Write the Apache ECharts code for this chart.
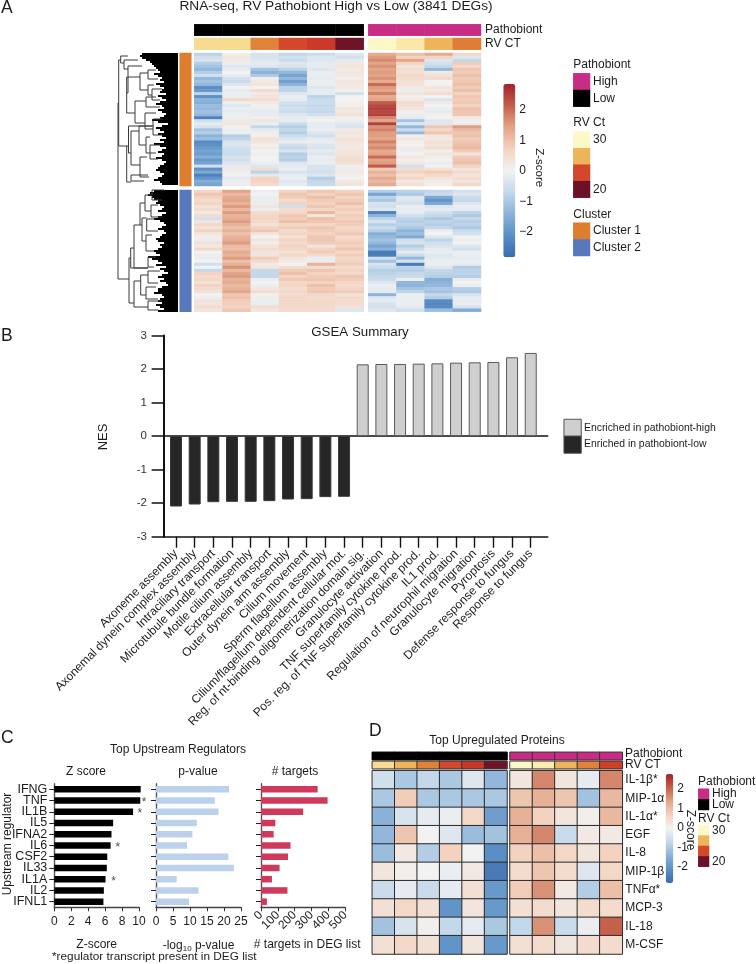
<!DOCTYPE html>
<html><head><meta charset="utf-8">
<script src="https://cdn.jsdelivr.net/npm/echarts@6/dist/echarts.min.js"></script>
<style>html,body{margin:0;padding:0;background:#fff}#c{width:756px;height:964px}</style>
</head><body><div id="c"></div>
<script>
// ---------- Panel A: z-scores in tenths, one array per sample column, upper block (cluster 1)
const upperLow1=[-8,-5,-4,-9,-11,-13,-9,-5,-13,-11,-13,-21,-19,-8,-21,-14,-15,-12,-13,-11,-13,-24,-5,-2,-4,-11,-9,-14,-12,-22,-21,-19,-17,-18,-15,-19,-17,-5,-21,-16,-24,-20,-15,-17];
const upperLow2=[1,3,2,-1,-3,-2,0,-2,-5,-6,-3,0,-2,-1,-1,6,-1,-3,-1,-2,-1,-1,2,3,1,-1,-1,-9,-8,-4,-3,-5,-6,-6,-4,-5,-3,-2,2,-1,1,-2,-1,1];
const upperLow3=[-4,-4,-3,-2,-3,-11,-14,-10,1,2,3,0,5,2,3,5,2,1,-1,-2,-2,1,3,-1,-7,-2,1,1,4,3,1,2,0,1,0,0,-1,-3,5,-8,-2,7,7,5];
const upperLow4=[-7,-5,-6,-3,-4,-8,-13,-17,-13,-18,-14,-8,-8,-3,-1,-2,-5,-6,-5,-6,-3,-2,-2,-6,-9,-7,-9,-6,-3,-1,-5,-7,-4,-9,-8,-9,-3,-2,-1,-4,-2,-1,-3,-2];
const upperLow5=[-6,-3,-3,-2,-2,-3,-1,-1,-2,-1,-1,-3,-2,-2,-8,-6,-6,-7,-6,-7,-5,-1,0,-2,-2,-1,-3,-5,-2,-1,-3,-4,-2,-3,-1,-2,-1,-4,-4,-5,-3,-9,-7,-6];
const upperLow6=[-3,-5,-2,2,3,2,3,2,1,3,2,2,1,-5,0,0,1,1,3,2,4,1,-1,-3,-4,2,3,2,4,3,2,2,3,3,4,5,4,1,-1,2,1,0,2,3];
const upperHigh1=[13,15,17,14,16,14,15,14,16,13,20,15,14,18,13,14,22,24,25,24,25,17,14,25,16,18,15,15,14,18,15,17,13,14,20,14,15,22,8,12,10,13,11,13];
const upperHigh2=[10,7,14,7,3,5,4,6,5,4,4,2,-1,3,1,2,5,4,3,1,-1,-2,-11,-3,-13,-6,-13,1,3,1,0,2,-1,0,3,1,2,-5,5,7,4,6,2,4];
const upperHigh3=[13,7,-3,-5,-7,-13,2,4,5,0,0,3,2,5,0,-4,2,0,-1,-2,1,0,-3,-3,9,6,9,3,2,4,3,5,1,3,1,0,-1,0,4,8,6,3,2,1];
const upperHigh4=[6,-3,-7,8,6,9,8,10,8,9,10,8,10,7,9,8,9,7,10,9,9,2,1,-1,15,11,9,10,8,9,10,11,8,3,8,9,10,7,3,5,3,5,3,6];
// lower block (cluster 2)
const lowerLow1=[6,9,7,5,7,4,5,2,5,-5,3,6,4,7,3,1,-1,4,2,6,0,-1,-1,0,-5,0,-7,7,5,6,4,7,5,4,0,-1,4,3,5,3];
const lowerLow2=[14,11,13,14,12,15,11,15,12,13,15,12,10,12,10,12,13,15,11,10,13,12,15,10,12,16,11,14,15,12,13,11,12,14,9,10,8,8,7,9];
const lowerLow3=[-1,0,-1,-1,-1,3,-1,5,6,7,6,4,7,9,3,0,3,1,4,5,3,3,8,5,2,3,-7,-7,-7,-1,0,-1,3,5,1,-1,-1,-1,5,3];
const lowerLow4=[7,9,8,5,7,-5,5,6,9,8,10,6,8,5,7,4,7,5,7,6,4,6,3,2,0,5,8,10,7,9,6,7,5,6,5,6,6,6,6,5];
const lowerLow5=[9,7,10,8,7,9,6,11,3,10,9,6,9,8,7,9,9,8,3,7,8,5,-1,-1,12,5,9,7,8,9,7,10,8,9,6,5,6,6,6,5];
const lowerLow6=[7,9,7,8,10,7,8,6,8,7,9,8,6,7,9,5,7,8,7,9,6,8,6,7,8,5,7,6,9,8,6,5,7,8,4,6,5,5,4,-3];
const lowerHigh1=[-9,-17,-8,-10,-4,-5,-3,-24,-14,-8,-4,-9,-6,-9,-15,-13,-11,-13,-17,-14,-25,-25,-5,-11,-4,-6,-9,-8,-7,-6,-3,-1,-2,-2,-14,-3,-2,-4,-5,-3];
const lowerHigh2=[-8,-10,-3,-3,-5,-1,-2,-2,-5,-8,-9,-8,-10,-14,-12,-16,-5,-4,-9,-6,-2,-6,-13,-4,-25,-8,-9,-7,-6,-1,-13,-14,-11,-8,-1,-1,-1,-1,-2,-5];
const lowerHigh3=[-7,-6,-16,-20,-16,-3,-2,-5,-7,-10,-8,-9,-7,-1,0,-3,-8,-5,-4,-2,-1,-3,-2,-1,-1,-3,-7,-8,-9,-15,-14,-13,-10,-11,-7,-9,-22,-23,-22,-12];
const lowerHigh4=[-5,-3,-6,-7,-3,-1,-2,-8,-10,-7,-9,-8,-10,-6,-5,0,-1,0,-3,-5,-1,-1,-2,-1,-2,-9,-8,-8,-9,-1,0,-1,-9,-10,-4,-2,-2,-1,-4,-15];
// RV Ct of each sample, pathobiont group codes
const ctLowA=[28.9,28.9,26,24,23,20.1];
const ctHighA=[30,29.4,27.5,25.8];
// dendrogram: merges [depth, rowA, rowB, childDepthA, childDepthB]
const dendroMerges=[[0,50,226,0.7,11],[0.7,7,93,2.7,8.7],[2.7,3,10,10,6],[6,7,16,20,10],[10,13,40,24,8.7],[8.7,24,60,22,17],[22,20,37,30,30],[30,17,26,38,40],[30,32,42,36,34],[34,36,47,44,42],[17,48,70,28,27],[28,44,54,38,42],[27,60,76,38,35],[35,66,82,45,44],[8.7,93,129,10.5,13],[10.5,73,100,34,13],[13,78,112,21,22],[21,73,92,36,28],[28,84,100,32,38],[32,92,106,42,40],[22,104,124,29,31],[13,122,128,30,26],[11,205,250,12.7,16],[12.7,195,215,16,30],[16,172,215,22,30],[22,150,172,27,24],[27,142,158,34,33],[34,137,147,46,44],[33,152,164,40,44],[24,165,188,28.7,28],[28.7,166,178,38,40],[28,182,198,34,36],[30,204,214,38,36],[16,228,254,22.7,30],[22.7,222,242,30,28],[30,218,230,42,40],[28,234,246,38,40],[30,248,257,44,40]];
const dendroLeafUpper=[24,22,24,28,32,34,36,38,40,42,36,40,44,42,46,38,42,46,44,42,48,40,44,48,42,38,44,46,40,44,48,46,42,34,40,50,44,38,42,46,40,44,48,42,46,36,42,48,44,40,46,44,38,44,48,46,42,40,38,42,46,44,40,36,42,44];
const dendroLeafLower=[36,32,30,34,36,40,38,42,46,44,40,48,44,40,36,42,46,48,44,40,46,48,44,42,38,40,46,42,44,40,36,38,42,30,34,40,44,38,48,42,46,50,44,40,46,42,48,50,44,40,40,36,44,46,42,40,44,38,42,46,40];
// ---------- Panel B
const gseaTerms=["Axoneme assembly","Axonemal dynein complex assembly","Intraciliary transport","Microtubule bundle formation","Motile cilium assembly","Extracellular transport","Outer dynein arm assembly","Cilium movement","Sperm flagellum assembly","Cilium/flagellum dependent cellular mot.","Reg. of nt-binding oligomerization domain sig.","Granulocyte activation","TNF superfamily cytokine prod.","Pos. reg. of TNF superfamily cytokine prod.","IL1 prod.","Regulation of neutrophil migration","Granulocyte migration","Pyroptosis","Defense response to fungus","Response to fungus"];
const gseaNes=[-2.1,-2.04,-1.97,-1.96,-1.96,-1.94,-1.89,-1.88,-1.82,-1.81,2.14,2.15,2.15,2.16,2.17,2.19,2.2,2.21,2.35,2.48];
// ---------- Panel C
const regulators=["IFNG","TNF","IL1B","IL5","IFNA2","IL6","CSF2","IL33","IL1A","IL2","IFNL1"];
const regZ=[10.2,10.15,9.3,6.95,6.75,6.65,6.25,6.2,6.05,5.85,5.8];
const regP=[21.5,17.3,18.4,12,10.7,9.1,21.3,22.9,6.1,12.5,9.7];
const regTargets=[336,395,250,85,75,175,160,110,65,157,35];
const regStars=[[10.6,"TNF"],[10.1,"IL1B"],[7.5,"IL6"],[7.0,"IL1A"]];
// ---------- Panel D
const proteins=["IL-1β*","MIP-1α","IL-1α*","EGF","IL-8","MIP-1β","TNFα*","MCP-3","IL-18","M-CSF"];
const protLow=[[-0.5,-1,-0.7,-1,-0.3,-1.3],[-1,0.8,-1,-1,-1,-1],[-1.4,-0.4,-0.2,-0.1,0.6,-1.8],[-1.3,0.9,0,-0.3,-1.2,-1.1],[-1.2,0.2,-0.9,0.7,0,-2.1],[0.3,0.1,0,-0.1,0.2,-2.5],[-0.6,-0.2,-0.6,-0.2,0.4,-1.9],[0.4,0.6,0.4,-2,0.3,-1.9],[-1.1,-0.4,0.1,-0.7,-0.2,-1],[0.4,0.6,0.4,-2,0.3,-1.9]];
const protHigh=[[0.3,1.7,0.3,-0.2,1.7],[0.9,1.2,0.9,-1.1,1.1],[1.2,0.7,0.3,0.1,1.1],[1.2,1.7,-0.6,0.2,0.2],[0.7,1,0.6,0.3,0.7],[0.5,0.9,0.5,-0.3,0.6],[0.8,1.6,0.2,-0.9,1],[0.4,0.5,0.3,0.5,0.5],[-0.7,1.6,-0.6,-0.1,2.1],[0.4,0.5,0.3,0.5,0.5]];
const ctLowD=[28.9,27.5,26,24,22.8,20.1];
const ctHighD=[30,29.5,27.5,26,23.5];
// legends
const ctLegend=[30,27.5,24,20];
const zStops=['#3c6bad','#5a8fc5','#8ab2d9','#c3d8ea','#f2f2f2','#f3d3c0','#e2a488','#c4604c','#a1212f'];
const ctStops=['#6b1228','#c12c25','#d4472a','#e0823a','#f2c464','#fdf8c8'];
const FONT='"Liberation Sans",Arial,sans-serif', INK='#1c1c1c';

const grids=[],xAxis=[],yAxis=[],series=[],graphic=[];
const vmZA=[],vmZD=[],vmCt=[],vmCat=[];
function grid(box){grids.push({left:box[0],top:box[1],width:box[2],height:box[3],show:false,containLabel:false,outerBoundsMode:'none'});return grids.length-1;}
const hiddenCat=(g,n,inv,extra)=>Object.assign({type:'category',gridIndex:g,data:Array.from({length:n},(_,i)=>i),show:false,inverse:!!inv},extra||{});
// a matrix heat panel; rows[r][c]
function heat(box,rows,target,border,yExtra){
  const g=grid(box),nr=rows.length,nc=rows[0].length,data=[];
  rows.forEach((row,r)=>row.forEach((v,c)=>data.push([c,r,v])));
  xAxis.push(hiddenCat(g,nc));
  yAxis.push(hiddenCat(g,nr,true,yExtra));
  target.push(series.length);
  series.push({type:'heatmap',xAxisIndex:xAxis.length-1,yAxisIndex:yAxis.length-1,data,silent:true,progressive:0,animation:false,
    itemStyle:border?{borderColor:border,borderWidth:1}:{}});
}
const toRows=(cols,f)=>cols[0].map((_,r)=>cols.map(c=>f?f(c[r]):c[r]));
const tenth=v=>v/10;
function text(t,x,y,o){graphic.push({type:'text',x,y,rotation:(o&&o.rot)||0,silent:true,style:Object.assign({text:t,fill:INK,font:`${(o&&o.size)||12}px ${FONT}`,align:(o&&o.align)||'left',verticalAlign:'middle'},(o&&o.rich)?{rich:o.rich}:{})});}
const legendLabels=(labels,size)=>({show:true,position:'right',data:labels,axisLine:{show:false},axisTick:{show:false},axisLabel:{show:true,interval:0,fontFamily:FONT,fontSize:size,color:INK,margin:3}});
function legendSwatch(box,codes,target,labels,size,border){heat(box,codes.map(v=>[v]),target,border,legendLabels(labels,size));}

// ========== A
heat([194.3,53,169.4,133],toRows([upperLow1,upperLow2,upperLow3,upperLow4,upperLow5,upperLow6],tenth),vmZA);
heat([368.3,53,112.7,133],toRows([upperHigh1,upperHigh2,upperHigh3,upperHigh4],tenth),vmZA);
heat([194.3,190,169.4,121.7],toRows([lowerLow1,lowerLow2,lowerLow3,lowerLow4,lowerLow5,lowerLow6],tenth),vmZA);
heat([368.3,190,112.7,121.7],toRows([lowerHigh1,lowerHigh2,lowerHigh3,lowerHigh4],tenth),vmZA);
heat([194.3,24.3,169.4,11.4],[[0,0,0,0,0,0]],vmCat);
heat([368.3,24.3,112.7,11.4],[[1,1,1,1]],vmCat);
heat([194.3,38,169.4,11.7],[ctLowA],vmCt);
heat([368.3,38,112.7,11.7],[ctHighA],vmCt);
heat([179.7,53,11.6,133],[[2]],vmCat);
heat([179.7,190,11.6,121.7],[[3]],vmCat);
// dendrogram
{
  const g=grid([118,53,60,259]);
  xAxis.push({type:'value',gridIndex:g,min:0,max:60,show:false});
  yAxis.push({type:'value',gridIndex:g,min:0,max:259,inverse:true,show:false});
  const xi=xAxis.length-1,yi=yAxis.length-1;
  const leaves=[];
  dendroLeafUpper.forEach((d,i)=>leaves.push([d,i*2]));
  dendroLeafLower.forEach((d,i)=>leaves.push([d,137+i*2]));
  series.push({type:'custom',xAxisIndex:xi,yAxisIndex:yi,silent:true,animation:false,data:leaves,clip:false,
    renderItem(p,api){const a=api.coord([api.value(0),api.value(1)]),b=api.coord([60,api.value(1)+2]);
      return {type:'rect',shape:{x:a[0],y:a[1],width:b[0]-a[0],height:b[1]-a[1]},style:{fill:'#000'}};},
    encode:{x:0,y:1}});
  series.push({type:'custom',xAxisIndex:xi,yAxisIndex:yi,silent:true,animation:false,data:dendroMerges,clip:false,
    renderItem(p,api){
      const d=api.value(0),y1=api.value(1),y2=api.value(2),a=api.value(3),b=api.value(4);
      const P=(x,y)=>api.coord([x,y]);
      const pts=[P(a,y1),P(d,y1),P(d,y2),P(b,y2)];
      return {type:'polyline',shape:{points:pts},style:{fill:null,stroke:'#3a3a3a',lineWidth:1}};},
    encode:{x:0,y:1}});
}
// colour bar axis
function zAxis(box,minus){
  const g=grid(box);
  xAxis.push({type:'category',gridIndex:g,data:[''],show:false});
  yAxis.push({type:'value',gridIndex:g,min:-3,max:3,interval:1,position:'right',axisLine:{show:false},axisTick:{show:false},splitLine:{show:false},
    axisLabel:{fontFamily:FONT,fontSize:12,color:INK,margin:4,formatter:v=>Math.abs(v)===3?'':String(v).replace('-',minus)}});
}
zAxis([503.3,79.2,12,183],'−');
text('Z-score',539,167.7,{rot:-Math.PI/2,align:'center',size:11.5});
text('RNA-seq, RV Pathobiont High vs Low (3841 DEGs)',336,6,{size:13.7,align:'center'});
text('Pathobiont',485,30,{size:12});
text('RV CT',485,44,{size:12});
text('A',1,8,{size:17.5});
text('Pathobiont',573.3,65,{size:12});
legendSwatch([573.3,73.3,16.7,33.4],[1,0],vmCat,['High','Low'],12);
text('RV Ct',573.3,123,{size:12});
legendSwatch([573.3,131.7,16.7,66],ctLegend,vmCt,['30','','','20'],12);
text('Cluster',573.3,214.7,{size:12});
legendSwatch([573.3,222.7,16.7,33.3],[2,3],vmCat,['Cluster 1','Cluster 2'],12);

// ========== B
{
  const g=grid([164,335.5,383.7,201.2]);
  xAxis.push({type:'category',gridIndex:g,data:[''],axisLine:{onZero:true,lineStyle:{color:'#111',width:1.6}},axisTick:{show:false},axisLabel:{show:false}});
  const xi2=xAxis.length;
  xAxis.push({type:'category',gridIndex:g,position:'bottom',data:[''],axisLine:{onZero:false,lineStyle:{color:'#111',width:1.6}},axisTick:{show:false},axisLabel:{show:false}});
  yAxis.push({type:'value',gridIndex:g,min:-3,max:3,interval:1,axisLine:{show:true,onZero:false,lineStyle:{color:'#111',width:2}},axisTick:{show:true,length:12.4,lineStyle:{color:'#111',width:1.5}},splitLine:{show:false},
    axisLabel:{fontFamily:FONT,fontSize:11.5,color:'#333',margin:17}});
  const yi=yAxis.length-1;
  series.push({type:'line',xAxisIndex:xi2,yAxisIndex:yi,data:[],silent:true});
  const b=grid([166.67,335.5,373.4,201.2]);
  xAxis.push({type:'category',gridIndex:b,data:gseaTerms,axisLine:{show:false,onZero:false},axisTick:{show:true,alignWithLabel:true,length:11,lineStyle:{color:'#111',width:1.4}},
    axisLabel:{interval:0,rotate:45,fontFamily:FONT,fontSize:12,color:INK,margin:15,hideOverlap:false}});
  yAxis.push({type:'value',gridIndex:b,min:-3,max:3,show:false});
  series.push({type:'bar',xAxisIndex:xAxis.length-1,yAxisIndex:yAxis.length-1,barWidth:12,silent:true,animation:false,
    data:gseaNes.map(v=>({value:v,itemStyle:{color:v<0?'#262626':'#cfcfcf',borderColor:v<0?'#3a3a3a':'#5a5a5a',borderWidth:1}}))});
  text('GSEA Summary',360,332,{size:13.3,align:'center'});
  text('NES',103,437,{rot:Math.PI/2,align:'center',size:13});
  text('B',1,336,{size:17.5});
  legendSwatch([564.2,419.5,16.8,33.5],[4,5],vmCat,['Encriched in pathobiont-high','Enriched in pathobiont-low'],10.4,'#555');
}

// ========== C
function cPanel(box,values,color,max,interval,yLabels,rot,name,rich,pad){
  const g=grid(box);
  xAxis.push({type:'value',gridIndex:g,min:0,max,interval,axisLine:{show:true,lineStyle:{color:'#444',width:1.3}},axisTick:{show:true,length:4,lineStyle:{color:'#333',width:1}},splitLine:{show:false},
    axisLabel:{fontFamily:FONT,fontSize:12,color:INK,margin:rot?6:8,rotate:rot,hideOverlap:false},
    name,nameLocation:'middle',nameGap:31,nameTextStyle:Object.assign({fontFamily:FONT,fontSize:12,color:INK},rich?{rich}:{},pad?{padding:pad}:{})});
  yAxis.push({type:'category',gridIndex:g,data:regulators,inverse:true,axisLine:{show:true,lineStyle:{color:'#555',width:1.4}},axisTick:{show:true,alignWithLabel:true,length:5,lineStyle:{color:'#222',width:1}},
    axisLabel:{show:yLabels,interval:0,fontFamily:FONT,fontSize:12.5,color:INK,margin:7}});
  series.push({type:'bar',xAxisIndex:xAxis.length-1,yAxisIndex:yAxis.length-1,data:values,barWidth:6.5,clip:false,silent:true,animation:false,itemStyle:{color}});
}
cPanel([54.3,783.7,84.7,123.6],regZ,'#000',10,2,true,0,'Z-score');
series.push({type:'scatter',xAxisIndex:xAxis.length-1,yAxisIndex:yAxis.length-1,symbolSize:1,itemStyle:{color:'transparent'},clip:false,silent:true,animation:false,data:regStars.map(s=>[s[0],s[1]]),
  label:{show:true,position:'inside',formatter:'*',fontFamily:FONT,fontSize:12,color:INK,offset:[0,2]}});
cPanel([156,783.7,85,123.6],regP,'#bcd2ec',25,5,false,0,'-log{s|10} p-value',{s:{fontFamily:FONT,fontSize:8,color:INK,verticalAlign:'bottom',padding:[6,0,0,0]}});
cPanel([261,783.7,84.3,123.6],regTargets,'#cf3a5c',500,100,false,45,'# targets in DEG list',null,[0,0,0,8]);
text('Top Upstream Regulators',178,750,{size:12,align:'center'});
text('Z score',86,772,{size:12,align:'center'});
text('p-value',198,772,{size:12,align:'center'});
text('# targets',295,772,{size:12,align:'center'});
text('*regulator transcript present in DEG list',52,957,{size:11.8});
text('Upstream regulator',8,844,{rot:Math.PI/2,align:'center',size:12});
text('C',1,738,{size:17.5});

// ========== D
heat([372.3,770.7,134.7,183.3],protLow,vmZD,'#2b2b2b');
heat([510,770.7,112.3,183.3],protHigh,vmZD,'#2b2b2b',{show:true,position:'right',data:proteins,axisLine:{show:false},axisTick:{show:false},axisLabel:{show:true,interval:0,fontFamily:FONT,fontSize:12,color:INK,margin:3}});
heat([372.3,752.3,134.7,7.4],[[0,0,0,0,0,0]],vmCat,'#000');
heat([510,752.3,112.3,7.4],[[1,1,1,1,1]],vmCat,'#333');
heat([372.3,761.3,134.7,7.4],[ctLowD],vmCt,'#333');
heat([510,761.3,112.3,7.4],[ctHighD],vmCt,'#333');
zAxis([665.7,769.2,7.6,117],'-');
text('Top Upregulated Proteins',497,741,{size:12,align:'center'});
text('Pathobiont',625,754,{size:12});
text('RV CT',625,765,{size:12});
text('Z-score',690,830,{rot:-Math.PI/2,align:'center',size:12});
text('D',369,731,{size:17.5});
text('Pathobiont',698,782,{size:12});
legendSwatch([698.3,788.7,10.7,21.3],[1,0],vmCat,['High','Low'],12,null);
text('RV Ct',698,819,{size:12});
legendSwatch([698.3,825.3,10.7,41.4],ctLegend,vmCt,['30','','','20'],12,null);

const option={animation:false,backgroundColor:'#fff',textStyle:{fontFamily:FONT},grid:grids,xAxis,yAxis,series,
 graphic:{elements:graphic},
 visualMap:[
  {type:'continuous',min:-2.84,max:2.84,seriesIndex:vmZA,inRange:{color:zStops},left:503.3,top:84,itemWidth:12,itemHeight:173.3,padding:0,showLabel:false,text:[],calculable:false,hoverLink:false,silent:true,borderRadius:0},
  {type:'continuous',min:-2.8,max:2.8,seriesIndex:vmZD,inRange:{color:zStops},left:665.7,top:774,itemWidth:7.6,itemHeight:109,padding:0,showLabel:false,text:[],calculable:false,hoverLink:false,silent:true,borderRadius:0},
  {type:'continuous',min:20,max:30,seriesIndex:vmCt,inRange:{color:ctStops},show:false},
  {type:'piecewise',seriesIndex:vmCat,show:false,pieces:[{value:0,color:'#000'},{value:1,color:'#c92c85'},{value:2,color:'#dd7d2d'},{value:3,color:'#5878bb'},{value:4,color:'#cfcfcf'},{value:5,color:'#262626'}]}
 ]};
echarts.init(document.getElementById('c'),null,{renderer:'canvas'}).setOption(option);
</script></body></html>
